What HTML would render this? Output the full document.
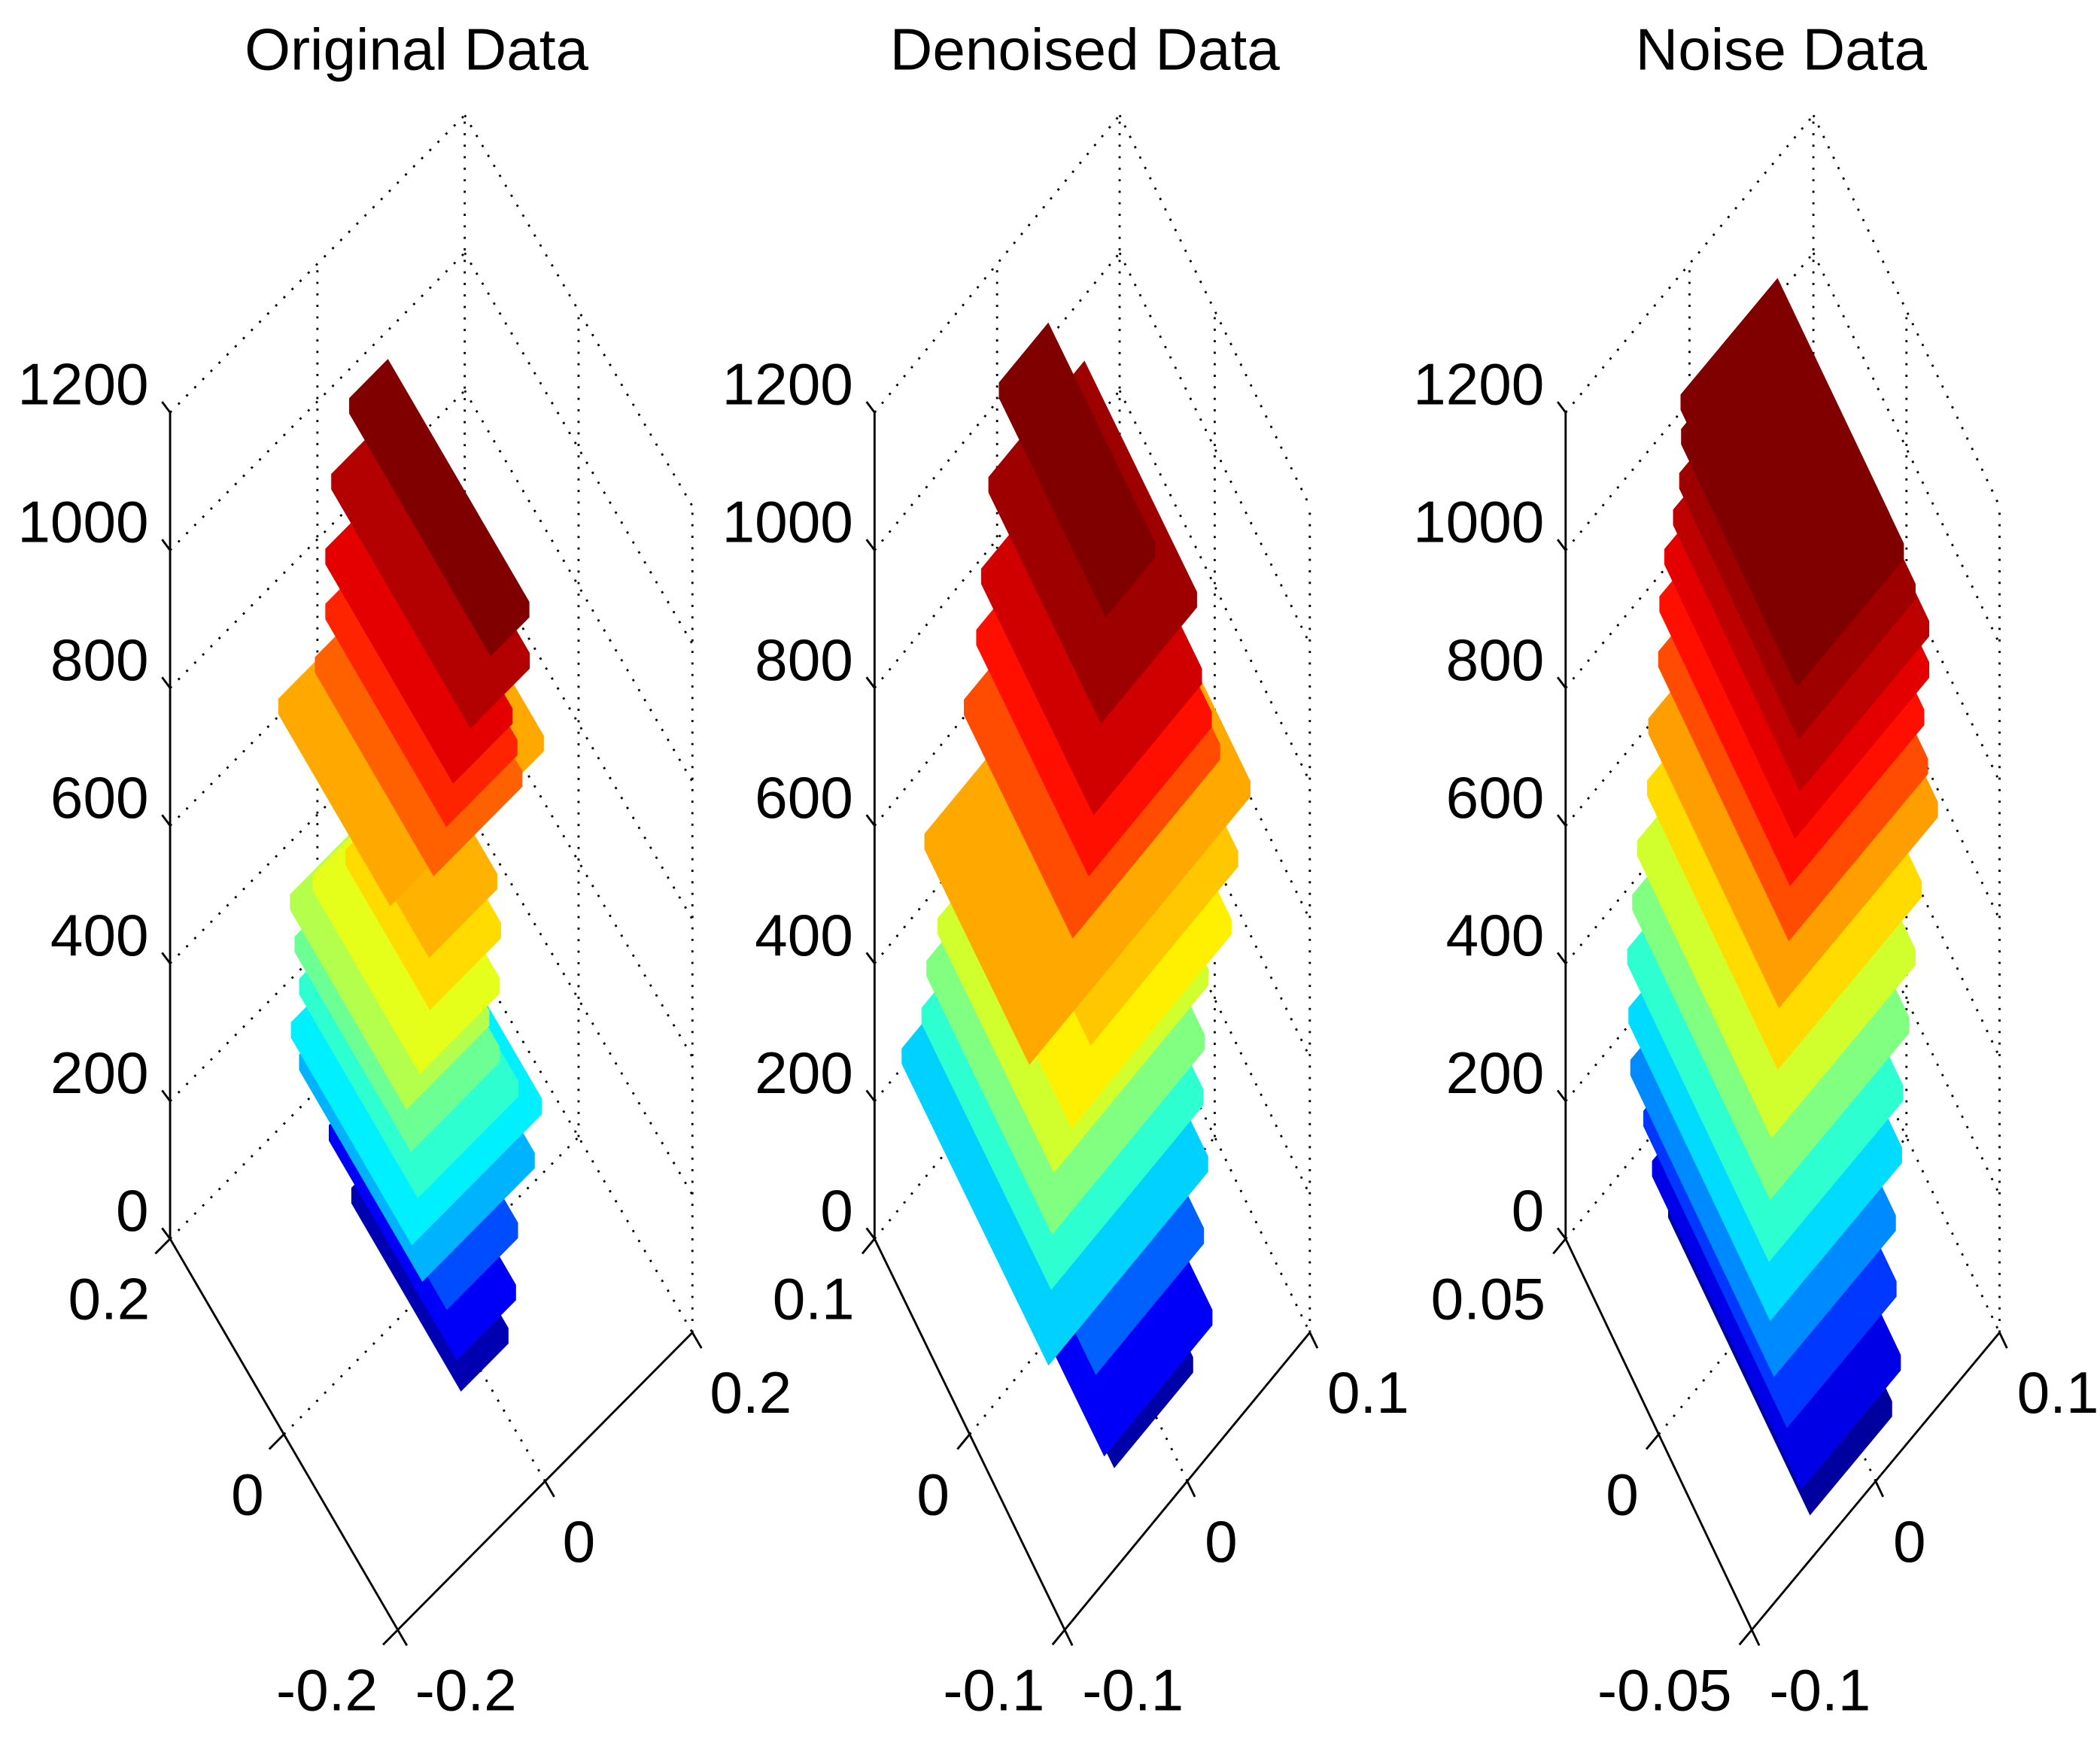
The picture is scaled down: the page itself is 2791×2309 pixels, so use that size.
<!DOCTYPE html>
<html><head><meta charset="utf-8">
<style>
html,body{margin:0;padding:0;background:#fff;}
svg{display:block;}
text{font-family:"Liberation Sans",Arial,sans-serif;fill:#000;}
</style></head>
<body>
<svg id="chart" width="2791" height="2309" viewBox="0 0 1568 1297" preserveAspectRatio="none" xmlns="http://www.w3.org/2000/svg">
<rect x="0" y="0" width="1568" height="1297" fill="#fff"/>
</svg>
<script>
// ---- data (per panel) : layer z-bottoms, z-tops, x/y extents (axis fractions), colour value ----
const zTicks = [0, 200, 400, 600, 800, 1000, 1200];
const titles = ["Original Data", "Denoised Data", "Noise Data"];
const xTickLabels = [["-0.2", "0", "0.2"], ["-0.1", "0", "0.1"], ["-0.1", "0", "0.1"]];
const yTickLabels = [["-0.2", "0", "0.2"], ["-0.1", "0", "0.1"], ["-0.05", "0", "0.05"]];

const p1zBot = [0,60,130,190,240,290,350,400,450,500,560,610,670,740,820,900,1000];
const p1zTop = [60,130,190,240,290,350,400,450,500,560,610,670,740,820,900,1000,1120];
const p1x0 = [.40,.37,.36,.30,.28,.30,.30,.30,.33,.38,.40,.33,.40,.42,.42,.44,.47];
const p1x1 = [.56,.57,.60,.68,.72,.64,.60,.58,.60,.62,.63,.85,.70,.66,.62,.64,.60];
const p1y0 = [.24,.22,.25,.28,.30,.30,.33,.35,.33,.35,.38,.46,.36,.33,.30,.25,.20];
const p1y1 = [.72,.78,.80,.82,.83,.82,.84,.86,.80,.72,.70,.95,.88,.86,.86,.86,.82];
const p1c  = [.05,.12,.20,.30,.36,.42,.48,.55,.60,.66,.70,.71,.78,.84,.90,.95,1.0];

const p2zBot = [0,80,160,230,300,360,420,480,540,600,680,760,840,920,1040];
const p2zTop = [80,160,230,300,360,420,480,540,600,680,760,840,920,1040,1150];
const p2x0 = [.28,.20,.22,.05,.10,.12,.15,.20,.30,.05,.25,.30,.32,.35,.40];
const p2x1 = [.60,.64,.66,.70,.72,.74,.78,.85,.90,.95,.85,.80,.76,.74,.60];
const p2y0 = [.10,.05,.12,.15,.20,.22,.25,.22,.25,.25,.28,.26,.26,.26,.30];
const p2y1 = [.80,.87,.85,.92,.88,.88,.86,.82,.80,.80,.85,.85,.85,.85,.86];
const p2c  = [.04,.12,.22,.33,.42,.50,.58,.64,.68,.71,.80,.86,.92,.97,1.0];

const p3zBot = [0,70,140,210,280,350,420,490,560,630,700,780,840,900,960,1020,1090];
const p3zTop = [70,140,210,280,350,420,490,560,630,700,780,840,900,960,1020,1090,1150];
const p3x0 = [.25,.20,.18,.15,.15,.16,.18,.20,.24,.26,.30,.32,.34,.36,.37,.37,.36];
const p3x1 = [.58,.60,.62,.64,.68,.70,.74,.78,.82,.90,.86,.86,.88,.88,.84,.80,.75];
const p3y0 = [.02,.00,.05,.08,.10,.12,.14,.16,.18,.20,.20,.22,.22,.22,.24,.25,.26];
const p3y1 = [.78,.80,.82,.85,.86,.88,.88,.88,.88,.90,.90,.92,.92,.90,.88,.87,.86];
const p3c  = [.03,.10,.18,.26,.34,.42,.50,.58,.66,.72,.80,.86,.90,.94,.97,1.0,1.0];

const panels = [
  {zx:127, cx:297, cy:1217, rx:517, ry:995, zBot:p1zBot, zTop:p1zTop, x0:p1x0, x1:p1x1, y0:p1y0, y1:p1y1, c:p1c, tx:311},
  {zx:653, cx:795, cy:1217, rx:978, ry:995, zBot:p2zBot, zTop:p2zTop, x0:p2x0, x1:p2x1, y0:p2y0, y1:p2y1, c:p2c, tx:810},
  {zx:1169, cx:1308, cy:1217, rx:1493, ry:995, zBot:p3zBot, zTop:p3zTop, x0:p3x0, x1:p3x1, y0:p3y0, y1:p3y1, c:p3c, tx:1330}
];

const svg = document.getElementById('chart');
const NS = "http://www.w3.org/2000/svg";
const zBase = 925, zMax = 1200, zPix = 617, slabMax = 22;

function mk(tag, attrs, parent) {
  const e = document.createElementNS(NS, tag);
  for (const k in attrs) e.setAttribute(k, attrs[k]);
  (parent || svg).appendChild(e);
  return e;
}
function jet(v) {
  const cl = t => Math.max(0, Math.min(1, t));
  const r = cl(1.5 - Math.abs(4 * v - 3)), g = cl(1.5 - Math.abs(4 * v - 2)), b = cl(1.5 - Math.abs(4 * v - 1));
  return `rgb(${Math.round(r*255)},${Math.round(g*255)},${Math.round(b*255)})`;
}

panels.forEach((p, pi) => {
  const g = mk('g', {});
  
  
  const Rv = [p.rx - p.cx, p.ry - p.cy];
  const Lv = [p.zx - p.cx, zBase - p.cy];
  const zs = z => z / zMax * zPix;
  const P = (u, v, z) => [p.cx + Rv[0] * u + Lv[0] * v, p.cy + Rv[1] * u + Lv[1] * v - zs(z)];
  const pt = a => a[0].toFixed(1) + ',' + a[1].toFixed(1);
  const dot = {stroke:'#000', 'stroke-width':1.6, 'stroke-dasharray':'1.6 7', fill:'none'};

  const t = mk('text', {x:p.tx, y:52, 'font-size':44, 'text-anchor':'middle'}, g);
  t.textContent = titles[pi];
  
  

  const grid = mk('g', {}, g);
  
  
  const line = (a, b, at) => mk('line', Object.assign({x1:a[0], y1:a[1], x2:b[0], y2:b[1]}, at), grid);
  zTicks.forEach(z => {
    line(P(0, 1, z), P(1, 1, z), dot);
    line(P(1, 1, z), P(1, 0, z), dot);
  });
  line(P(1, 1, 0), P(1, 1, zMax), dot);
  line(P(1, 0, 0), P(1, 0, zMax), dot);
  line(P(.5, 1, 0), P(.5, 1, zMax), dot);
  line(P(1, .5, 0), P(1, .5, zMax), dot);
  line(P(.5, 0, 0), P(.5, 1, 0), dot);
  line(P(0, .5, 0), P(1, .5, 0), dot);

  const surf = mk('g', {}, g);
  
  
  p.zBot.forEach((zb0, i) => {
    const zt = p.zTop[i], zb = Math.max(zb0, zt - slabMax);
    const u0 = p.x0[i], u1 = p.x1[i], v0 = p.y0[i], v1 = p.y1[i];
    const pts = [P(u1, v1, zt), P(u0, v1, zt), P(u0, v1, zb), P(u0, v0, zb), P(u1, v0, zb), P(u1, v0, zt)];
    const poly = mk('polygon', {points: pts.map(pt).join(' '), fill: jet(p.c[i]), stroke: jet(p.c[i]), 'stroke-width': 0.6}, surf);
    
    
  });

  const ax = mk('g', {}, g);
  
  
  const solid = {stroke:'#000', 'stroke-width':1.6};
  mk('line', Object.assign({x1:p.zx, y1:zBase - zPix, x2:p.zx, y2:zBase}, solid), ax);
  mk('line', Object.assign({x1:p.zx, y1:zBase, x2:p.cx, y2:p.cy}, solid), ax);
  mk('line', Object.assign({x1:p.cx, y1:p.cy, x2:p.rx, y2:p.ry}, solid), ax);
  [0, .5, 1].forEach(f => {
    const a = P(f, 0, 0);
    mk('line', Object.assign({x1:a[0], y1:a[1], x2:a[0] - Lv[0]*0.04, y2:a[1] - Lv[1]*0.04}, solid), ax);
    const c = P(0, f, 0);
    mk('line', Object.assign({x1:c[0], y1:c[1], x2:c[0] - Rv[0]*0.05, y2:c[1] - Rv[1]*0.05}, solid), ax);
  });

  zTicks.forEach(z => {
    const y = zBase - zs(z);
    mk('line', Object.assign({x1:p.zx - 6, y1:y - 8, x2:p.zx, y2:y}, solid), ax);
    const tl = mk('text', {x:p.zx - 16, y:y - 6, 'font-size':44, 'text-anchor':'end'}, g);
    tl.textContent = String(z);
    
    
  });
  [0, .5, 1].forEach((f, k) => {
    const a = P(0, f, 0);
    const tl = mk('text', {x:a[0] - 15, y:a[1] + 60, 'font-size':44, 'text-anchor':'end'}, g);
    tl.textContent = yTickLabels[pi][k];
    
    
  });
  [0, .5, 1].forEach((f, k) => {
    const a = P(f, 0, 0);
    const tl = mk('text', {x:a[0] + 13, y:a[1] + 60, 'font-size':44, 'text-anchor':'start'}, g);
    tl.textContent = xTickLabels[pi][k];
    
    
  });
});
</script>
</body></html>
